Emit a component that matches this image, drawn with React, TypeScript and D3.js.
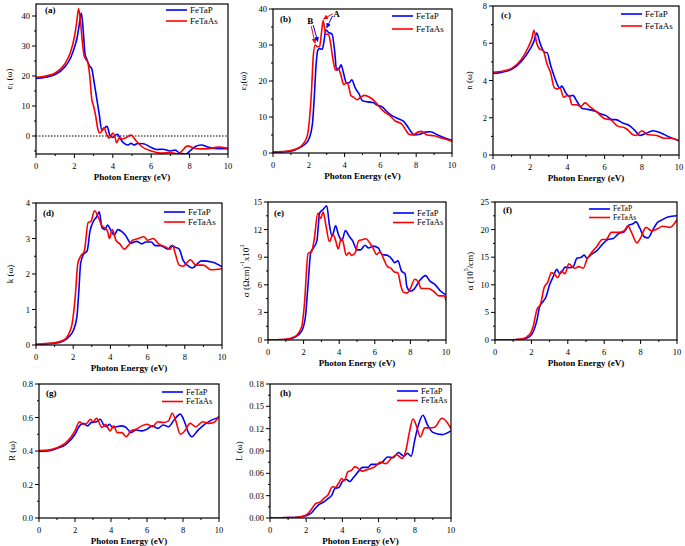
import React from 'react';
import * as d3 from 'd3';

type P = [number, number][];

const energyTicks = [0, 2, 4, 6, 8, 10];
const seriesNames = ['FeTaP', 'FeTaAs'];

// (a) eps1
const eps1FeTaP: P = [[0,19.2],[0.5,19.6],[1,20.5],[1.5,23],[1.8,26],[2,29.5],[2.15,33],[2.25,37],[2.36,41],[2.45,36],[2.55,27.5],[2.65,25.5],[2.8,23.2],[2.9,22.5],[3.0,19],[3.1,15],[3.2,11],[3.3,7],[3.42,2],[3.55,2.6],[3.7,3.2],[3.85,0.2],[4.0,-0.5],[4.12,0.2],[4.25,0.6],[4.4,-1],[4.55,-2.2],[4.8,-3],[4.95,-2.4],[5.1,-3],[5.3,-2.5],[5.6,-2.6],[6,-3.8],[6.3,-4.5],[6.6,-4.4],[7,-5],[7.25,-4.7],[7.5,-5.8],[7.8,-6],[8.05,-4.8],[8.3,-3.5],[8.6,-3],[9,-3.8],[9.5,-4.2],[10,-4.2]];
const eps1FeTaAs: P = [[0,19.6],[0.5,20],[1,21],[1.5,24],[1.8,28],[2,33],[2.12,38],[2.22,42.5],[2.32,38],[2.42,31],[2.5,27],[2.6,25.5],[2.7,24.5],[2.8,20],[2.9,12.5],[3.0,10],[3.1,7],[3.2,3],[3.3,1],[3.42,1.5],[3.55,2.8],[3.65,1],[3.8,-0.7],[3.9,0],[4.0,1],[4.1,0],[4.2,-2.2],[4.35,-0.5],[4.5,-1],[4.7,-0.5],[4.95,0.3],[5.2,-1.5],[5.5,-3.5],[6,-5],[6.5,-5.7],[7,-5.5],[7.4,-6],[7.6,-5],[7.9,-3.3],[8.2,-4],[8.6,-4.3],[9,-4.2],[9.5,-3.7],[10,-4.1]];

// (b) eps2
const eps2FeTaP: P = [[0,0.2],[0.5,0.3],[1,0.5],[1.5,1.5],[1.8,2.5],[2,3.8],[2.2,8],[2.3,15],[2.4,24],[2.5,28.5],[2.6,29],[2.75,28.8],[2.85,31],[2.95,34.2],[3.1,33.5],[3.3,33],[3.45,28],[3.55,23],[3.7,23.5],[3.8,24.5],[3.95,22],[4.1,19.5],[4.25,19.5],[4.4,20.3],[4.6,18],[4.8,16.5],[5.0,14.5],[5.3,14.2],[5.6,14],[5.8,13.3],[6.1,12.8],[6.3,11.8],[6.6,10.5],[7.0,9.5],[7.3,8.8],[7.5,7.5],[7.7,6],[7.9,5],[8.2,5.2],[8.5,5.8],[8.8,5.9],[9.2,5],[9.6,4.2],[10,3.5]];
const eps2FeTaAs: P = [[0,0.3],[0.5,0.4],[1,0.7],[1.5,1.6],[1.9,4.5],[2.05,10],[2.15,17],[2.25,27],[2.35,30],[2.5,29.5],[2.6,29.5],[2.7,33],[2.8,36.8],[2.95,33],[3.1,33],[3.2,31],[3.35,26],[3.5,23],[3.65,23.5],[3.8,21.5],[3.95,19],[4.1,19.5],[4.2,19],[4.35,16],[4.5,15.5],[4.7,14.8],[4.9,15.5],[5.1,16],[5.4,15.5],[5.7,14.3],[6.0,12.5],[6.2,11.5],[6.5,10.5],[6.8,9],[7.2,8],[7.4,6.5],[7.6,5.2],[7.8,5],[8.1,5.8],[8.3,6],[8.6,5],[9,4.8],[9.5,4],[10,3.3]];

// (c) n
const nFeTaP: P = [[0,4.38],[0.5,4.45],[1,4.6],[1.5,5.0],[2,5.7],[2.2,6.1],[2.35,6.55],[2.5,6.1],[2.65,5.7],[2.8,5.5],[2.9,5.5],[3.1,4.8],[3.3,4.2],[3.5,3.7],[3.6,3.6],[3.7,3.7],[3.9,3.35],[4.1,3.15],[4.3,3.2],[4.5,2.9],[4.8,2.5],[5.1,2.45],[5.5,2.35],[5.8,2.2],[6.1,2.1],[6.4,1.9],[6.6,1.9],[7,1.7],[7.3,1.6],[7.6,1.35],[7.9,1.05],[8.2,1.15],[8.6,1.3],[9,1.2],[9.5,0.95],[10,0.78]];
const nFeTaAs: P = [[0,4.44],[0.5,4.5],[1,4.65],[1.5,5.1],[1.9,5.8],[2.1,6.3],[2.2,6.7],[2.35,6.0],[2.5,5.7],[2.7,5.6],[2.9,4.9],[3.1,4.4],[3.3,3.6],[3.45,3.55],[3.6,3.6],[3.8,3.1],[4.0,3.2],[4.1,3.15],[4.25,2.7],[4.5,2.7],[4.7,2.6],[4.95,2.8],[5.2,2.6],[5.6,2.3],[6,1.95],[6.3,1.9],[6.7,1.55],[7.1,1.45],[7.3,1.3],[7.5,1.1],[7.7,1.05],[8.0,1.3],[8.3,1.1],[8.8,1.05],[9.2,0.9],[9.6,0.9],[10,0.75]];

// (d) k
const kFeTaP: P = [[0,0.01],[0.5,0.03],[1,0.05],[1.5,0.12],[1.8,0.25],[2,0.4],[2.2,0.8],[2.3,1.5],[2.4,2.3],[2.55,2.55],[2.75,2.65],[2.9,3.2],[3.1,3.5],[3.25,3.6],[3.4,3.75],[3.55,3.3],[3.7,3.25],[3.85,3.38],[4.0,3.25],[4.2,3.1],[4.4,3.25],[4.55,3.22],[4.8,3.1],[5.1,2.87],[5.4,2.92],[5.7,2.85],[5.9,2.9],[6.2,2.9],[6.4,2.8],[6.7,2.8],[7.1,2.7],[7.3,2.8],[7.5,2.75],[7.7,2.7],[7.9,2.4],[8.2,2.22],[8.4,2.17],[8.7,2.3],[8.9,2.37],[9.5,2.33],[10,2.2]];
const kFeTaAs: P = [[0,0.02],[0.5,0.04],[1,0.06],[1.5,0.14],[1.9,0.5],[2.1,1.3],[2.25,2.3],[2.4,2.5],[2.6,2.65],[2.8,3.45],[2.95,3.48],[3.15,3.78],[3.35,3.6],[3.55,3.35],[3.7,3.3],[3.85,3.2],[3.95,3.0],[4.1,3.25],[4.3,2.95],[4.5,2.85],[4.75,2.7],[4.95,2.8],[5.2,2.95],[5.5,3.0],[5.8,3.05],[6.0,2.95],[6.3,3.0],[6.6,2.85],[7.0,2.75],[7.2,2.7],[7.35,2.8],[7.5,2.55],[7.7,2.25],[7.9,2.22],[8.3,2.4],[8.6,2.25],[9,2.25],[9.4,2.12],[10,2.15]];

// (e) sigma
const sigmaFeTaP: P = [[0,0],[0.5,0.02],[1,0.05],[1.5,0.3],[1.9,1],[2.1,2.5],[2.25,6],[2.4,9.5],[2.55,10],[2.75,10.8],[2.9,13.8],[3.1,14.2],[3.3,14.6],[3.45,12.5],[3.6,11.3],[3.8,12.4],[3.95,11.5],[4.15,10.8],[4.35,11.9],[4.55,11.3],[4.75,10.8],[5.0,9.8],[5.2,9.8],[5.45,10.3],[5.65,10.0],[5.9,10.2],[6.2,10.0],[6.4,9.3],[6.7,9.2],[7.0,8.7],[7.1,8.4],[7.3,8.6],[7.5,7.5],[7.7,7.2],[7.8,5.8],[8.0,5.3],[8.2,5.5],[8.5,6.4],[8.85,7.0],[9.1,6.4],[9.4,6.0],[9.7,5.3],[10,4.9]];
const sigmaFeTaAs: P = [[0,0],[0.5,0.03],[1,0.08],[1.5,0.35],[1.9,1.5],[2.05,4],[2.25,9.4],[2.45,9.6],[2.6,11],[2.8,13.8],[2.95,13.2],[3.1,13.9],[3.25,12.5],[3.45,10.7],[3.65,11.5],[3.8,10.8],[3.95,9.9],[4.1,11.0],[4.2,10.8],[4.4,9.2],[4.55,9.5],[4.7,9.2],[4.9,9.5],[5.1,10.8],[5.3,10.9],[5.5,11.0],[5.7,10.6],[5.9,10.0],[6.1,9.3],[6.3,9.6],[6.5,8.8],[6.7,8.0],[6.9,7.8],[7.1,7.4],[7.3,7.3],[7.45,6.0],[7.6,5.2],[7.8,5.1],[8.0,5.6],[8.25,6.6],[8.45,6.3],[8.6,5.6],[9,5.6],[9.3,5.3],[9.6,4.8],[9.9,4.8],[10,4.3]];

// (f) alpha
const alphaFeTaP: P = [[0,0],[0.5,0.02],[1,0.05],[1.5,0.15],[1.9,0.6],[2.1,1.5],[2.3,3.5],[2.45,6],[2.6,6.8],[2.8,7.8],[3.0,10],[3.2,11.5],[3.4,12.8],[3.55,12.0],[3.7,12.5],[3.85,13.2],[4.1,13.1],[4.3,13.3],[4.5,14.8],[4.75,15.0],[4.9,15.4],[5.05,14.8],[5.3,15.5],[5.6,16.2],[5.9,17.3],[6.2,18.2],[6.5,18.4],[6.8,19.3],[7.1,19.6],[7.35,20.8],[7.55,21.0],[7.75,21.4],[7.95,20.3],[8.2,18.7],[8.4,18.5],[8.65,19.8],[8.9,21.2],[9.2,21.8],[9.5,22.3],[10,22.5]];
const alphaFeTaAs: P = [[0,0],[0.5,0.02],[1,0.05],[1.5,0.2],[1.9,1.0],[2.1,2.5],[2.3,5.5],[2.5,6.5],[2.7,9.5],[2.9,10.5],[3.1,12.2],[3.3,11.8],[3.45,11.3],[3.65,12.5],[3.85,12.0],[4.05,13.8],[4.2,13.4],[4.4,13.0],[4.6,13.3],[4.85,13.0],[5.05,14.6],[5.3,15.8],[5.6,17.0],[5.9,18.2],[6.1,18.2],[6.4,19.5],[6.8,19.5],[7.1,19.8],[7.3,20.7],[7.5,19.5],[7.8,17.6],[8.0,18.5],[8.3,20.4],[8.6,19.8],[8.9,20.1],[9.2,20.6],[9.6,20.4],[10,21.8]];

// (g) R
const rFeTaP: P = [[0,0.397],[0.5,0.40],[1,0.415],[1.5,0.44],[2,0.5],[2.25,0.55],[2.45,0.565],[2.7,0.55],[2.9,0.57],[3.2,0.575],[3.4,0.59],[3.6,0.555],[3.75,0.545],[3.9,0.56],[4.1,0.54],[4.3,0.545],[4.6,0.55],[4.85,0.54],[5.1,0.51],[5.4,0.525],[5.7,0.52],[6.0,0.53],[6.3,0.55],[6.6,0.535],[6.9,0.555],[7.2,0.545],[7.5,0.585],[7.85,0.62],[8.1,0.57],[8.3,0.51],[8.5,0.485],[8.8,0.52],[9.1,0.55],[9.5,0.58],[10,0.60]];
const rFeTaAs: P = [[0,0.402],[0.5,0.405],[1,0.42],[1.5,0.45],[2,0.52],[2.25,0.575],[2.45,0.56],[2.65,0.565],[2.85,0.59],[3.0,0.575],[3.2,0.595],[3.5,0.54],[3.7,0.56],[3.95,0.52],[4.15,0.55],[4.35,0.51],[4.6,0.51],[4.85,0.485],[5.1,0.52],[5.4,0.53],[5.7,0.55],[6.0,0.56],[6.3,0.545],[6.6,0.575],[6.9,0.57],[7.2,0.58],[7.4,0.625],[7.6,0.58],[7.85,0.50],[8.1,0.52],[8.4,0.565],[8.7,0.545],[9.1,0.575],[9.4,0.565],[9.7,0.57],[10,0.61]];

// (h) L
const lFeTaP: P = [[0,0],[1,0.0005],[1.5,0.001],[2,0.003],[2.3,0.007],[2.5,0.013],[2.7,0.018],[3.0,0.022],[3.2,0.026],[3.4,0.030],[3.6,0.040],[3.8,0.041],[4.0,0.049],[4.2,0.052],[4.4,0.049],[4.6,0.054],[4.9,0.063],[5.1,0.068],[5.4,0.068],[5.6,0.072],[5.9,0.072],[6.2,0.075],[6.5,0.082],[6.8,0.081],[7.1,0.088],[7.4,0.083],[7.6,0.087],[7.8,0.083],[8.0,0.105],[8.2,0.125],[8.45,0.138],[8.7,0.125],[9.0,0.115],[9.5,0.112],[10,0.117]];
const lFeTaAs: P = [[0,0],[1,0.0005],[1.5,0.001],[2,0.004],[2.3,0.012],[2.5,0.019],[2.8,0.022],[3.0,0.027],[3.2,0.031],[3.45,0.042],[3.6,0.041],[3.8,0.047],[3.95,0.053],[4.1,0.050],[4.3,0.062],[4.5,0.064],[4.7,0.069],[4.9,0.066],[5.1,0.063],[5.5,0.066],[5.8,0.069],[6.1,0.075],[6.4,0.073],[6.7,0.080],[7.0,0.085],[7.3,0.080],[7.5,0.090],[7.7,0.115],[7.9,0.133],[8.1,0.123],[8.3,0.109],[8.55,0.121],[8.8,0.121],[9.1,0.122],[9.5,0.134],[9.8,0.128],[10,0.12]];

const BLUE = '#0000ff';
const RED = '#ff0000';
const FONT = '"Liberation Serif", "Times New Roman", serif';

interface Cfg {
  tag: string;
  box: [number, number, number, number];
  yDomain: [number, number];
  yTicks: number[];
  yMinor: number[];
  yFmt: (v: number) => string;
  yLabel: React.ReactNode;
  yLabelX: number;
  blue: P;
  red: P;
  legend: [number, number, number, number];
  tagPos: [number, number];
}

const panels: Cfg[] = [
  { tag: '(a)', box: [36, 4, 228, 154], yDomain: [-6, 44], yTicks: [0, 10, 20, 30, 40], yMinor: [-5, 5, 15, 25, 35],
    yFmt: d => String(d), yLabel: <>ε<tspan dy="2" fontSize="6">1</tspan><tspan dy="-2"> (ω)</tspan></>, yLabelX: 10,
    blue: eps1FeTaP, red: eps1FeTaAs, legend: [166, 10, 11, 9], tagPos: [45, 13] },
  { tag: '(b)', box: [273, 9, 452, 153], yDomain: [0, 40], yTicks: [0, 10, 20, 30, 40], yMinor: [5, 15, 25, 35],
    yFmt: d => String(d), yLabel: <>ε<tspan dy="2" fontSize="6">2</tspan><tspan dy="-2">(ω)</tspan></>, yLabelX: 244,
    blue: eps2FeTaP, red: eps2FeTaAs, legend: [392, 16, 13, 9], tagPos: [280, 22] },
  { tag: '(c)', box: [493, 6, 679, 155], yDomain: [0, 8], yTicks: [0, 2, 4, 6, 8], yMinor: [1, 3, 5, 7],
    yFmt: d => String(d), yLabel: <>n (ω)</>, yLabelX: 470,
    blue: nFeTaP, red: nFeTaAs, legend: [621, 14, 12, 9], tagPos: [501, 18] },
  { tag: '(d)', box: [36, 203, 222, 345], yDomain: [0, 4], yTicks: [0, 1, 2, 3, 4], yMinor: [0.5, 1.5, 2.5, 3.5],
    yFmt: d => String(d), yLabel: <>k (ω)</>, yLabelX: 11,
    blue: kFeTaP, red: kFeTaAs, legend: [164, 212, 10, 9], tagPos: [43, 216] },
  { tag: '(e)', box: [268, 202, 446, 340], yDomain: [0, 15], yTicks: [0, 3, 6, 9, 12, 15], yMinor: [1.5, 4.5, 7.5, 10.5, 13.5],
    yFmt: d => String(d), yLabel: <>σ (Ωcm)<tspan dy="-4" fontSize="6">-1</tspan><tspan dy="4">x10</tspan><tspan dy="-4" fontSize="6">3</tspan></>, yLabelX: 247,
    blue: sigmaFeTaP, red: sigmaFeTaAs, legend: [393, 213, 9.5, 8.5], tagPos: [274, 216] },
  { tag: '(f)', box: [495, 202, 677, 340], yDomain: [0, 25], yTicks: [0, 5, 10, 15, 20, 25], yMinor: [2.5, 7.5, 12.5, 17.5, 22.5],
    yFmt: d => String(d), yLabel: <>α (10<tspan dy="-4" fontSize="6">5</tspan><tspan dy="4">/cm)</tspan></>, yLabelX: 471,
    blue: alphaFeTaP, red: alphaFeTaAs, legend: [589, 209, 8.5, 7.5], tagPos: [503, 213] },
  { tag: '(g)', box: [39, 384, 219, 518], yDomain: [0, 0.8], yTicks: [0, 0.2, 0.4, 0.6, 0.8], yMinor: [0.1, 0.3, 0.5, 0.7],
    yFmt: d => d.toFixed(1), yLabel: <>R (ω)</>, yLabelX: 13,
    blue: rFeTaP, red: rFeTaAs, legend: [162, 392, 9.5, 8.5], tagPos: [46, 396] },
  { tag: '(h)', box: [270, 384, 451, 518], yDomain: [0, 0.18], yTicks: [0, 0.03, 0.06, 0.09, 0.12, 0.15, 0.18], yMinor: [0.015, 0.045, 0.075, 0.105, 0.135, 0.165],
    yFmt: d => d.toFixed(2), yLabel: <>L (ω)</>, yLabelX: 240,
    blue: lFeTaP, red: lFeTaAs, legend: [397, 391, 9.5, 8.5], tagPos: [280, 396] },
];

const xMinor = [1, 3, 5, 7, 9];

function Panel({ c }: { c: Cfg }) {
  const [l, t, r, b] = c.box;
  const x = d3.scaleLinear().domain([0, 10]).range([l, r]);
  const y = d3.scaleLinear().domain(c.yDomain).range([b, t]);
  const line = d3.line<[number, number]>().x(d => x(d[0])).y(d => y(Math.max(c.yDomain[0], d[1]))).curve(d3.curveMonotoneX);
  const [lx, ly, lg, lf] = c.legend;
  const cid = 'clip' + c.tag.replace(/\W/g, '');
  return (
    <g fontFamily={FONT}>
      <defs>
        <clipPath id={cid}>
          <rect x={l} y={t} width={r - l} height={b - t} />
        </clipPath>
      </defs>
      {c.tag === '(a)' && (
        <line x1={l} x2={r} y1={y(0)} y2={y(0)} stroke="#000" strokeWidth={1} strokeDasharray="1.5,1.5" />
      )}
      <g clipPath={`url(#${cid})`}>
        <path d={line(c.blue) || ''} fill="none" stroke={BLUE} strokeWidth={1.6} />
        <path d={line(c.red) || ''} fill="none" stroke={RED} strokeWidth={1.6} />
      </g>
      <rect x={l} y={t} width={r - l} height={b - t} fill="none" stroke="#000" strokeWidth={1.2} />
      {energyTicks.map(v => (
        <g key={'xt' + v}>
          <line x1={x(v)} x2={x(v)} y1={b} y2={b + 4} stroke="#000" strokeWidth={1} />
          <text x={x(v)} y={b + 14.5} fontSize={8.5} textAnchor="middle">{v}</text>
        </g>
      ))}
      {xMinor.map(v => (
        <line key={'xm' + v} x1={x(v)} x2={x(v)} y1={b} y2={b + 2} stroke="#000" strokeWidth={1} />
      ))}
      {c.yTicks.map(v => (
        <g key={'yt' + v}>
          <line x1={l - 4} x2={l} y1={y(v)} y2={y(v)} stroke="#000" strokeWidth={1} />
          <text x={l - 6} y={y(v) + 3} fontSize={8.5} textAnchor="end">{c.yFmt(v)}</text>
        </g>
      ))}
      {c.yMinor.map(v => (
        <line key={'ym' + v} x1={l - 2} x2={l} y1={y(v)} y2={y(v)} stroke="#000" strokeWidth={1} />
      ))}
      <text x={(l + r) / 2} y={b + 26} fontSize={9} fontWeight="bold" textAnchor="middle">Photon Energy (eV)</text>
      <text transform={`translate(${c.yLabelX},${(t + b) / 2}) rotate(-90)`} fontSize={9} textAnchor="middle" dominantBaseline="middle">{c.yLabel}</text>
      <text x={c.tagPos[0]} y={c.tagPos[1]} fontSize={9} fontWeight="bold">{c.tag}</text>
      {seriesNames.map((name, i) => (
        <g key={name}>
          <line x1={lx} x2={lx + 21} y1={ly + i * lg} y2={ly + i * lg} stroke={i === 0 ? BLUE : RED} strokeWidth={1.6} />
          <text x={lx + 24} y={ly + i * lg + lf * 0.33} fontSize={lf}>{name}</text>
        </g>
      ))}
    </g>
  );
}

// annotation arrows for panel (b): label position, red tip, blue tip (data units)
const arrowB: P = [[2.08, 35.8], [2.35, 30.5], [2.5, 31]];
const arrowA: P = [[3.55, 37.8], [2.82, 37.2], [3.0, 34.8]];

function Annotations() {
  const c = panels[1];
  const x = d3.scaleLinear().domain([0, 10]).range([c.box[0], c.box[2]]);
  const y = d3.scaleLinear().domain(c.yDomain).range([c.box[3], c.box[1]]);
  return (
    <g fontFamily={FONT}>
      <defs>
        <marker id="arrR" viewBox="0 0 10 10" refX="9" refY="5" markerWidth="5" markerHeight="5" orient="auto">
          <path d="M0,0 L10,5 L0,10 z" fill={RED} />
        </marker>
        <marker id="arrBl" viewBox="0 0 10 10" refX="9" refY="5" markerWidth="5" markerHeight="5" orient="auto">
          <path d="M0,0 L10,5 L0,10 z" fill={BLUE} />
        </marker>
      </defs>
      <text x={x(arrowB[0][0])} y={y(arrowB[0][1])} fontSize={9} fontWeight="bold" textAnchor="middle">B</text>
      <line x1={x(arrowB[0][0]) + 1} y1={y(arrowB[0][1]) + 2} x2={x(arrowB[1][0])} y2={y(arrowB[1][1])} stroke={RED} strokeWidth={1} markerEnd="url(#arrR)" />
      <line x1={x(arrowB[0][0]) + 3} y1={y(arrowB[0][1]) + 1} x2={x(arrowB[2][0])} y2={y(arrowB[2][1])} stroke={BLUE} strokeWidth={1} markerEnd="url(#arrBl)" />
      <text x={x(arrowA[0][0])} y={y(arrowA[0][1])} fontSize={9} fontWeight="bold" textAnchor="middle">A</text>
      <line x1={x(arrowA[0][0]) - 4} y1={y(arrowA[0][1]) - 3} x2={x(arrowA[1][0])} y2={y(arrowA[1][1])} stroke={RED} strokeWidth={1} markerEnd="url(#arrR)" />
      <line x1={x(arrowA[0][0]) - 4} y1={y(arrowA[0][1]) - 1} x2={x(arrowA[2][0])} y2={y(arrowA[2][1])} stroke={BLUE} strokeWidth={1} markerEnd="url(#arrBl)" />
    </g>
  );
}

export default function App() {
  return (
    <svg width={685} height={546} style={{ position: 'absolute', left: 0, top: 0, background: '#fff' }}>
      <rect width={685} height={546} fill="#fff" />
      {panels.map(c => <Panel key={c.tag} c={c} />)}
      <Annotations />
    </svg>
  );
}
